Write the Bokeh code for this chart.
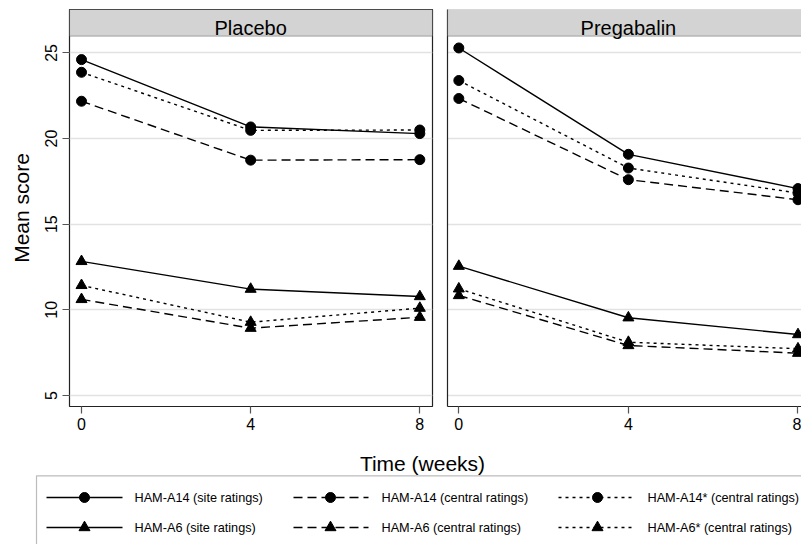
from bokeh.plotting import figure
from bokeh.models import Range1d, FixedTicker, BoxAnnotation, Label
from bokeh.layouts import column, row
from bokeh.embed import file_html
from bokeh.resources import INLINE
from bokeh.core.properties import value

# ---------------- data ----------------
weeks = [0, 4, 8]
y_ticks = [5, 10, 15, 20, 25]
panel_names = ["Placebo", "Pregabalin"]
series_labels = [
    "HAM-A14 (site ratings)",
    "HAM-A14 (central ratings)",
    "HAM-A14* (central ratings)",
    "HAM-A6 (site ratings)",
    "HAM-A6 (central ratings)",
    "HAM-A6* (central ratings)",
]

placebo_a14_site = [24.61, 20.68, 20.29]
placebo_a14_central = [22.18, 18.74, 18.77]
placebo_a14star_central = [23.87, 20.48, 20.50]
placebo_a6_site = [12.83, 11.21, 10.78]
placebo_a6_central = [10.61, 8.93, 9.57]
placebo_a6star_central = [11.43, 9.28, 10.10]

pregabalin_a14_site = [25.29, 19.08, 17.08]
pregabalin_a14_central = [22.34, 17.60, 16.43]
pregabalin_a14star_central = [23.39, 18.28, 16.82]
pregabalin_a6_site = [12.55, 9.54, 8.56]
pregabalin_a6_central = [10.84, 7.92, 7.47]
pregabalin_a6star_central = [11.23, 8.11, 7.73]

placebo_series = [placebo_a14_site, placebo_a14_central, placebo_a14star_central,
                  placebo_a6_site, placebo_a6_central, placebo_a6star_central]
pregabalin_series = [pregabalin_a14_site, pregabalin_a14_central, pregabalin_a14star_central,
                     pregabalin_a6_site, pregabalin_a6_central, pregabalin_a6star_central]

# ---------------- styles ----------------
FONT = "Liberation Sans"
DASHES = ["solid", "9 5", "3 4", "solid", "9 5", "3 4"]
MARKERS = ["circle", "circle", "circle", "triangle", "triangle", "triangle"]
MSIZE = {"circle": 10, "triangle": 11}
LW = 1.4
FRAME_COL = "#222222"
Y_LO, Y_HI = 4.357, 27.536
HEADER_BOTTOM = 25.976
HEADER_TEXT_Y = 26.43


def make_panel(name, series, width, xr, bl, br, first):
    p = figure(width=width, height=440, x_range=xr, y_range=Range1d(Y_LO, Y_HI),
               output_backend="svg", toolbar_location=None,
               min_border_left=bl, min_border_right=br, min_border_top=9, min_border_bottom=34)
    p.background_fill_color = "white"
    p.border_fill_color = "white"
    p.xgrid.visible = False
    p.ygrid.ticker = FixedTicker(ticks=y_ticks)
    p.ygrid.grid_line_color = "#e2e2e2"
    p.ygrid.grid_line_width = 1.5

    xa = p.xaxis[0]
    xa.ticker = FixedTicker(ticks=weeks)
    xa.major_tick_out = 7
    xa.major_tick_in = 0
    xa.minor_tick_line_color = None
    xa.major_tick_line_color = "#555555"
    xa.major_tick_line_width = 1.2
    xa.major_label_text_font = FONT
    xa.major_label_text_font_size = "16px"
    xa.major_label_text_color = "black"
    xa.major_label_standoff = 4

    ya = p.yaxis[0]
    if first:
        ya.ticker = FixedTicker(ticks=y_ticks)
        ya.major_tick_out = 7
        ya.major_tick_in = 0
        ya.minor_tick_line_color = None
        ya.major_tick_line_color = "#555555"
        ya.major_tick_line_width = 1.2
        ya.major_label_text_font = FONT
        ya.major_label_text_font_size = "16px"
        ya.major_label_text_color = "black"
        ya.major_label_orientation = "vertical"
        ya.major_label_standoff = 5
        ya.axis_label = "Mean score"
        ya.axis_label_text_font = FONT
        ya.axis_label_text_font_size = "21px"
        ya.axis_label_text_font_style = "normal"
        ya.axis_label_text_color = "black"
        ya.axis_label_standoff = 10
        ya.axis_line_color = None
        xa.axis_line_color = None
        p.outline_line_color = FRAME_COL
        p.outline_line_width = 1.2
        header = BoxAnnotation(bottom=HEADER_BOTTOM, fill_color="#d3d3d3", fill_alpha=1,
                               line_color="#3a3a3a", line_width=1.2)
    else:
        ya.ticker = FixedTicker(ticks=[])
        ya.major_tick_line_color = None
        ya.minor_tick_line_color = None
        ya.major_label_text_font_size = "0px"
        ya.axis_line_color = FRAME_COL
        ya.axis_line_width = 1.2
        xa.axis_line_color = FRAME_COL
        xa.axis_line_width = 1.2
        p.outline_line_color = None
        header = BoxAnnotation(bottom=HEADER_BOTTOM, right=xr.end + 1.0, fill_color="#d3d3d3",
                               fill_alpha=1, line_color="#3a3a3a", line_width=1.2)
    p.add_layout(header)
    p.add_layout(Label(x=4, y=HEADER_TEXT_Y, text=name, text_align="center",
                       text_baseline="alphabetic", text_font=FONT, text_font_size="20px",
                       text_color="black"))

    for vals, dash in zip(series, DASHES):
        p.line(weeks, vals, line_color="black", line_width=LW, line_dash=dash)
    for vals, mk in zip(series, MARKERS):
        p.scatter(weeks, vals, marker=mk, size=MSIZE[mk], fill_color="black",
                  line_color="black")
    return p


p1 = make_panel(panel_names[0], placebo_series, 439, Range1d(-0.284, 8.30), 69, 7, True)
p2 = make_panel(panel_names[1], pregabalin_series, 362, Range1d(-0.267, 8.083), 8, 0, False)

# ---------------- bottom: x title + legend ----------------
p3 = figure(width=801, height=104, x_range=Range1d(0, 801), y_range=Range1d(0, 104),
            output_backend="svg", toolbar_location=None,
            min_border_left=0, min_border_right=0, min_border_top=0, min_border_bottom=0)
p3.axis.visible = False
p3.grid.visible = False
p3.outline_line_color = None
p3.background_fill_color = "white"
p3.border_fill_color = "white"

p3.text(x=[422], y=[81.3], text=["Time (weeks)"], text_font=value(FONT),
        text_font_size="21px", text_align="center", text_baseline="alphabetic",
        text_color="black")

p3.add_layout(BoxAnnotation(left=36, right=900, top=68.7, bottom=-60, fill_color=None,
                            fill_alpha=0, line_color=FRAME_COL, line_width=1.2))

col_line_x0 = [46, 293, 558]
col_line_x1 = [122, 368, 635]
col_marker_x = [84, 330, 597]
col_text_x = [134, 381, 647]
row_y = [47, 17]

for i, lab in enumerate(series_labels):
    c, r = i % 3, i // 3
    y = row_y[r]
    p3.line([col_line_x0[c], col_line_x1[c]], [y, y], line_color="black", line_width=LW,
            line_dash=DASHES[i])
    p3.scatter([col_marker_x[c]], [y], marker=MARKERS[i], size=MSIZE[MARKERS[i]],
               fill_color="black", line_color="black")
    p3.text(x=[col_text_x[c]], y=[y], text=[lab], text_font=value(FONT),
            text_font_size="12.7px", text_align="left", text_baseline="middle",
            text_color="black")

layout = column(row(p1, p2), p3)
open("out.html", "w").write(file_html(layout, INLINE))
